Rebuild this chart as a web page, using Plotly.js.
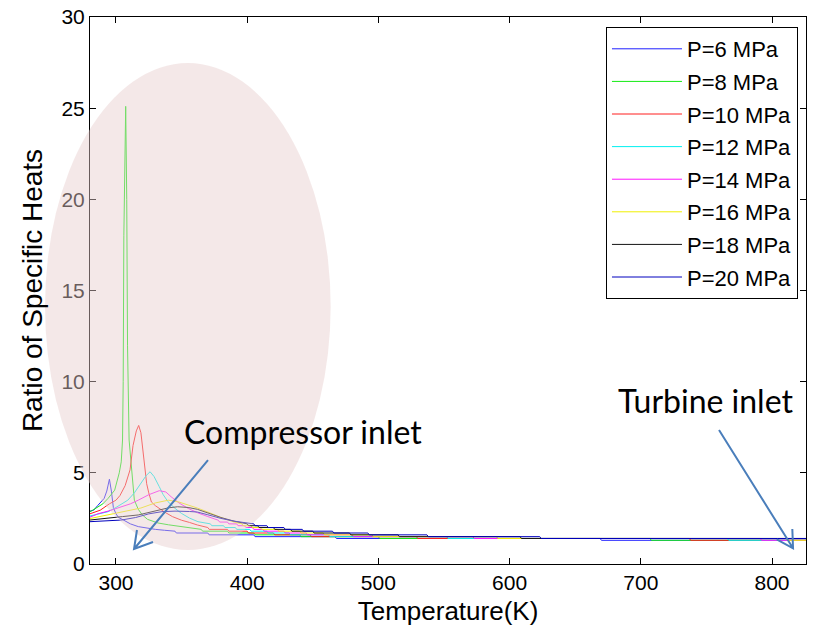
<!DOCTYPE html>
<html>
<head>
<meta charset="utf-8">
<script src="https://cdn.plot.ly/plotly-3.0.1.min.js"></script>
<style>html,body{margin:0;padding:0;background:#fff;}#chart{width:815px;height:632px;}</style>
</head>
<body>
<div id="chart"></div>
<script>
// Series names
var seriesNames = ['P=6 MPa','P=8 MPa','P=10 MPa','P=12 MPa','P=14 MPa','P=16 MPa','P=18 MPa','P=20 MPa'];

// Temperature (K) and ratio of specific heats for each pressure
var T6  = [280, 283, 286, 289, 291, 293, 295, 296.5, 298, 300, 302, 306, 311, 317, 323, 330, 337, 345, 346, 370, 371, 405, 406, 467, 468, 669, 670, 826];
var G6  = [2.9, 2.95, 3.2, 3.45, 3.6, 4.0, 4.65, 4.0, 3.1, 2.75, 2.55, 2.4, 2.2, 2.05, 1.97, 1.9, 1.85, 1.8, 1.7, 1.7, 1.6, 1.6, 1.5, 1.5, 1.4, 1.4, 1.3, 1.3];

var T8  = [280, 286, 290, 294, 299, 302.5, 304, 305, 305.5, 306, 306.6, 307.4, 308.2, 308.8, 310, 312, 314, 317, 320, 324, 332, 340, 350, 362, 365, 366, 385, 386, 405, 406, 440, 441, 500, 501, 707, 708, 826];
var G8  = [2.85, 3.1, 3.3, 3.6, 4.05, 5.0, 5.6, 6.8, 10, 18, 23, 25.1, 20, 12, 6.8, 5.0, 3.5, 3.0, 2.7, 2.45, 2.25, 2.15, 2.05, 1.95, 1.9, 1.8, 1.8, 1.7, 1.7, 1.6, 1.6, 1.5, 1.5, 1.4, 1.4, 1.3, 1.3];

var T10 = [280, 288, 295, 300, 303, 307, 310.7, 313, 315.5, 317.3, 319, 321, 323.4, 325, 327, 330, 337, 343, 350, 356, 362, 370, 371, 385, 386, 400, 401, 420, 421, 448, 449, 529, 530, 737, 738, 826];
var G10 = [2.75, 2.95, 3.3, 3.5, 3.75, 4.3, 5.16, 6.5, 7.3, 7.6, 7.2, 6.0, 4.4, 3.9, 3.4, 3.2, 2.85, 2.6, 2.4, 2.28, 2.14, 2.0, 1.9, 1.9, 1.8, 1.8, 1.7, 1.7, 1.6, 1.6, 1.5, 1.5, 1.4, 1.4, 1.3, 1.3];

var T12 = [280, 294, 300, 309, 314, 319, 323, 326, 329, 333, 336, 339.6, 345, 349.8, 356, 362.5, 372, 373, 382, 383, 391, 392, 402, 403, 415, 416, 432, 433, 462, 463, 552, 553, 766, 767, 826];
var G12 = [2.63, 2.87, 3.1, 3.5, 3.9, 4.44, 4.85, 5.06, 4.8, 4.24, 3.8, 3.42, 3.05, 2.78, 2.52, 2.32, 2.2, 2.1, 2.1, 2.0, 2.0, 1.9, 1.9, 1.8, 1.8, 1.7, 1.7, 1.6, 1.6, 1.5, 1.5, 1.4, 1.4, 1.3, 1.3];

var T14 = [280, 286, 294, 304, 311, 317, 325, 333, 338, 342, 348, 355, 362.5, 370, 378, 379, 385, 386, 392, 393, 398, 399, 404, 405, 412, 413, 428, 429, 445, 446, 480, 481, 572, 573, 791, 792, 826];
var G14 = [2.56, 2.75, 2.9, 3.14, 3.3, 3.5, 3.8, 4.02, 3.95, 3.69, 3.35, 3.05, 2.8, 2.6, 2.4, 2.3, 2.3, 2.2, 2.2, 2.1, 2.1, 2.0, 2.0, 1.9, 1.9, 1.8, 1.8, 1.7, 1.7, 1.6, 1.6, 1.5, 1.5, 1.4, 1.4, 1.3, 1.3];

var T16 = [280, 294, 305, 319, 330, 340, 348, 355, 362, 370, 380, 390, 396, 397, 403, 404, 410, 411, 423, 424, 440, 441, 458, 459, 495, 496, 590, 591, 811, 812, 826];
var G16 = [2.49, 2.69, 2.85, 3.07, 3.35, 3.5, 3.4, 3.24, 3.07, 2.85, 2.55, 2.3, 2.2, 2.1, 2.1, 2.0, 2.0, 1.9, 1.9, 1.8, 1.8, 1.7, 1.7, 1.6, 1.6, 1.5, 1.5, 1.4, 1.4, 1.3, 1.3];

var T18 = [280, 294, 305, 317, 330, 340, 347, 355, 362, 370, 380, 390, 400, 401, 408, 409, 420, 421, 433, 434, 450, 451, 478, 479, 515, 516, 608, 609, 826];
var G18 = [2.41, 2.5, 2.6, 2.69, 2.9, 3.08, 3.14, 3.1, 3.0, 2.8, 2.55, 2.35, 2.2, 2.1, 2.1, 2.0, 2.0, 1.9, 1.9, 1.8, 1.8, 1.7, 1.7, 1.6, 1.6, 1.5, 1.5, 1.4, 1.4];

var T20 = [280, 295, 304, 315, 325, 335, 345, 356, 362, 370, 380, 390, 400, 405, 406, 415, 416, 428, 429, 442, 443, 465, 466, 492, 493, 537, 538, 623, 624, 826];
var G20 = [2.32, 2.38, 2.41, 2.55, 2.75, 2.87, 2.9, 2.88, 2.85, 2.7, 2.5, 2.35, 2.25, 2.2, 2.1, 2.1, 2.0, 2.0, 1.9, 1.9, 1.8, 1.8, 1.7, 1.7, 1.6, 1.6, 1.5, 1.5, 1.4, 1.4];

var xTicks = [300, 400, 500, 600, 700, 800];
var yTicks = [0, 5, 10, 15, 20, 25, 30];

var colors = ['rgb(30,30,255)', 'rgb(20,235,20)', 'rgb(255,30,30)', 'rgb(0,240,240)', 'rgb(255,20,255)', 'rgb(240,240,0)', 'rgb(20,20,20)', 'rgb(0,0,190)'];

var xs = [T6, T8, T10, T12, T14, T16, T18, T20];
var ys = [G6, G8, G10, G12, G14, G16, G18, G20];

var traces = xs.map(function (x, i) {
  return {
    x: x, y: ys[i], type: 'scatter', mode: 'lines', name: seriesNames[i],
    legendgroup: 'g' + i,
    line: {color: colors[i], width: 1}
  };
});

var arrowColor = 'rgb(74,126,187)';
var layout = {
  width: 815, height: 632,
  margin: {l: 90, r: 9, t: 17, b: 68},
  paper_bgcolor: '#fff', plot_bgcolor: '#fff',
  showlegend: true,
  font: {family: 'Liberation Sans, Arial, sans-serif', color: '#000', size: 21},
  xaxis: {
    range: [280.2, 825.9], tickvals: xTicks, ticktext: xTicks.map(String),
    ticks: 'inside', ticklen: 6, tickcolor: '#000', showline: true, linecolor: '#000', linewidth: 1,
    mirror: 'ticks', showgrid: false, zeroline: false,
    tickfont: {size: 21},
    title: {text: 'Temperature(K)', font: {size: 26}, standoff: 8}
  },
  yaxis: {
    range: [0, 30], tickvals: yTicks, ticktext: yTicks.map(String),
    ticks: 'inside', ticklen: 6, tickcolor: '#000', showline: true, linecolor: '#000', linewidth: 1,
    mirror: 'ticks', showgrid: false, zeroline: false,
    tickfont: {size: 21},
    title: {text: 'Ratio of Specific Heats', font: {size: 28}, standoff: 10}
  },
  legend: {
    x: 0.9888, xanchor: 'right', y: 0.9817, yanchor: 'top',
    bgcolor: '#fff', bordercolor: '#000', borderwidth: 1,
    font: {size: 22}, tracegroupgap: 1, itemwidth: 70, traceorder: 'grouped',
    entrywidth: 190, entrywidthmode: 'pixels'
  },
  shapes: [
    {type: 'circle', xref: 'paper', yref: 'paper', x0: -0.0628, x1: 0.3361, y0: 0.0256, y1: 0.9159,
     fillcolor: 'rgb(230,205,205)', opacity: 0.45, line: {width: 0}, layer: 'above'},
    {type: 'path', xref: 'paper', yref: 'paper', layer: 'above',
     path: 'M0.1648,0.1901 L0.0615,0.0274 M0.0656,0.0622 L0.0615,0.0274 L0.0880,0.0402',
     line: {color: arrowColor, width: 2}},
    {type: 'path', xref: 'paper', yref: 'paper', layer: 'above',
     path: 'M0.8785,0.2449 L0.9819,0.0287 M0.9809,0.0640 L0.9819,0.0287 L0.9591,0.0452',
     line: {color: arrowColor, width: 2}}
  ],
  annotations: [
    {text: 'Compressor inlet', xref: 'paper', yref: 'paper', x: 0.2968, y: 0.2431,
     xanchor: 'center', yanchor: 'middle', showarrow: false,
     font: {family: 'Lato, Open Sans, sans-serif', size: 32, color: '#000'}},
    {text: 'Turbine inlet', xref: 'paper', yref: 'paper', x: 0.8596, y: 0.2985,
     xanchor: 'center', yanchor: 'middle', showarrow: false,
     font: {family: 'Lato, Open Sans, sans-serif', size: 32, color: '#000'}}
  ]
};

Plotly.newPlot('chart', traces, layout, {displayModeBar: false, staticPlot: true});
</script>
</body>
</html>
